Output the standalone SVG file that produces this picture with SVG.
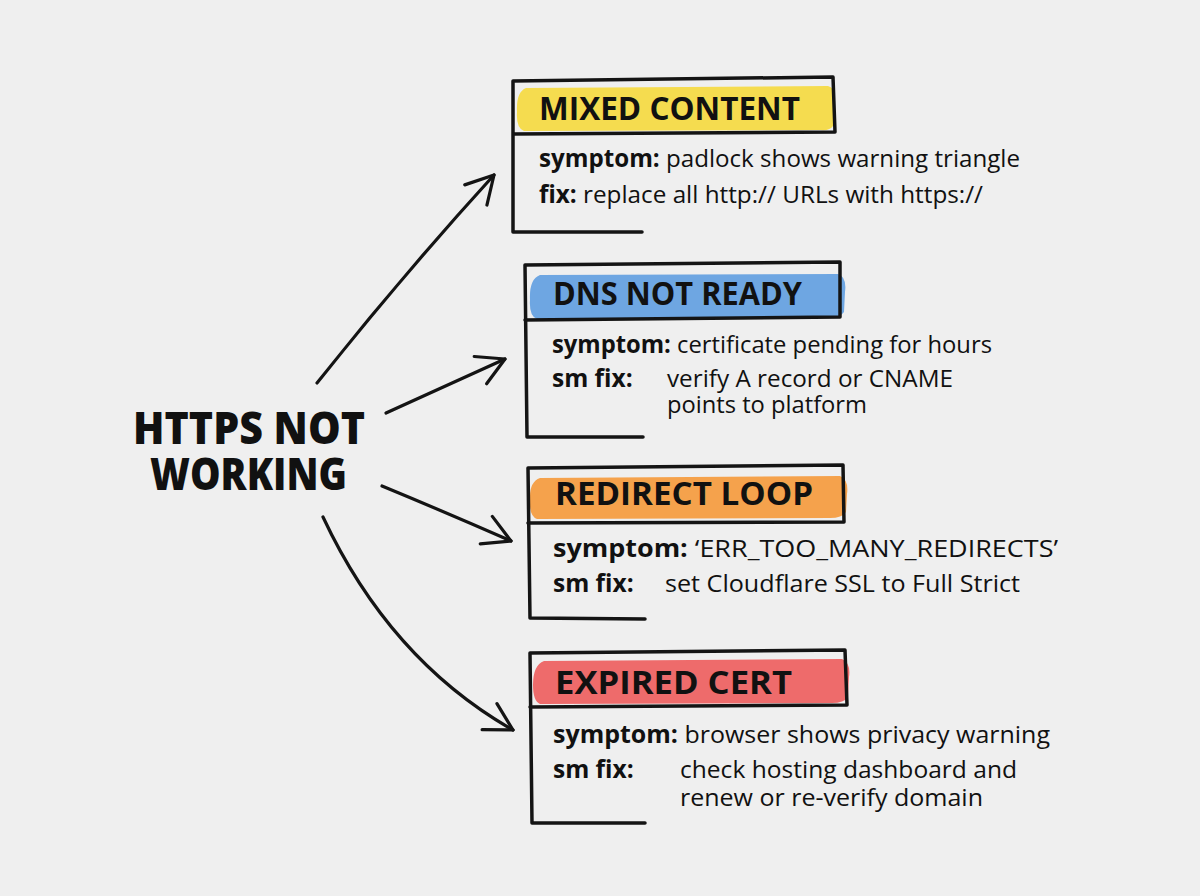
<svg xmlns="http://www.w3.org/2000/svg" width="1200" height="896" viewBox="0 0 1200 896">
<defs>
<style>
.bg{fill:#efefef}
.outline{fill:none;stroke:#141414;stroke-width:3.5;stroke-linecap:round;stroke-linejoin:round}
.conn{fill:none;stroke:#141414;stroke-width:3.2;stroke-linecap:round}
.title{font-family:"Open Sans","Liberation Sans",sans-serif;font-weight:800;font-size:45px;fill:#111}
.head{font-family:"Open Sans","Liberation Sans",sans-serif;font-weight:700;font-size:32px;fill:#111}
.body{font-family:"Open Sans","Liberation Sans",sans-serif;font-size:24.5px;fill:#111}
.b{font-weight:700}
</style>
<marker id="arrow" markerUnits="userSpaceOnUse" markerWidth="40" markerHeight="40" viewBox="-34 -20 40 40" refX="0" refY="0" orient="auto">
<path d="M-27,-15 L0,0 L-27,15" fill="none" stroke="#141414" stroke-width="3.2" stroke-linecap="round" stroke-linejoin="round"/>
</marker>
</defs>
<rect class="bg" x="0" y="0" width="1200" height="896"/>

<g id="connectors">
<path class="conn" d="M317,383 Q402,276 494,175" marker-end="url(#arrow)"/>
<path class="conn" d="M386,413 L505,359" marker-end="url(#arrow)"/>
<path class="conn" d="M382,486 Q445,512 511,541" marker-end="url(#arrow)"/>
<path class="conn" d="M323,517 Q390,660 513,730" marker-end="url(#arrow)"/>
</g>

<g id="root">
<text class="title" x="133" y="444" textLength="232" lengthAdjust="spacingAndGlyphs">HTTPS NOT</text>
<text class="title" x="150" y="490" textLength="197" lengthAdjust="spacingAndGlyphs">WORKING</text>
</g>

<g id="mixed-content">
<path d="M526,88 L828,86 Q836,88 834,100 L833,126 Q830,131 820,130 L524,131 Q516,128 517,112 Q516,92 526,88 Z" fill="#f5dc4f"/>
<path class="outline" d="M642,232 L513,232 L513,81 L833,77 L835,132 L513,134"/>
<text class="head" x="539" y="120" textLength="261" lengthAdjust="spacingAndGlyphs">MIXED CONTENT</text>
<text class="body" x="539" y="167" textLength="481" lengthAdjust="spacingAndGlyphs"><tspan class="b">symptom:</tspan> padlock shows warning triangle</text>
<text class="body" x="539" y="203" textLength="444" lengthAdjust="spacingAndGlyphs"><tspan class="b">fix:</tspan> replace all http:// URLs with https://</text>
</g>

<g id="dns-not-ready">
<path d="M540,275 L838,274 Q847,277 845,292 L844,312 Q840,318 828,318 L537,319 Q529,316 530,300 Q529,279 540,275 Z" fill="#6ea6e2"/>
<path class="outline" d="M643,437 L527,437 L525,265 L840,262 L840,317 L525,320"/>
<text class="head" x="553" y="305" textLength="249" lengthAdjust="spacingAndGlyphs">DNS NOT READY</text>
<text class="body" x="552" y="353" textLength="440" lengthAdjust="spacingAndGlyphs"><tspan class="b">symptom:</tspan> certificate pending for hours</text>
<text class="body b" x="552" y="387">sm fix:</text>
<text class="body" x="667" y="387" textLength="286" lengthAdjust="spacingAndGlyphs">verify A record or CNAME</text>
<text class="body" x="667" y="413" textLength="200" lengthAdjust="spacingAndGlyphs">points to platform</text>
</g>

<g id="redirect-loop">
<path d="M540,478 L840,476 Q849,480 847,494 L846,512 Q842,518 830,518 L537,519 Q529,516 530,500 Q529,482 540,478 Z" fill="#f5a24c"/>
<path class="outline" d="M645,619 L530,618 L528,468 L843,465 L844,522 L528,523"/>
<text class="head" x="555" y="505" textLength="258" lengthAdjust="spacingAndGlyphs">REDIRECT LOOP</text>
<text class="body" x="553" y="557" textLength="505" lengthAdjust="spacingAndGlyphs"><tspan class="b">symptom:</tspan> ‘ERR_TOO_MANY_REDIRECTS’</text>
<text class="body b" x="553" y="592">sm fix:</text>
<text class="body" x="665" y="592" textLength="355" lengthAdjust="spacingAndGlyphs">set Cloudflare SSL to Full Strict</text>
</g>

<g id="expired-cert">
<path d="M544,661 L842,659 Q851,663 849,677 L848,697 Q844,703 832,703 L540,704 Q533,701 533,685 Q533,665 544,661 Z" fill="#ee6b6b"/>
<path class="outline" d="M645,823 L532,823 L530,653 L845,650 L847,705 L530,707"/>
<text class="head" x="555" y="694" textLength="237" lengthAdjust="spacingAndGlyphs">EXPIRED CERT</text>
<text class="body" x="553" y="743" textLength="497" lengthAdjust="spacingAndGlyphs"><tspan class="b">symptom:</tspan> browser shows privacy warning</text>
<text class="body b" x="553" y="778">sm fix:</text>
<text class="body" x="680" y="778" textLength="337" lengthAdjust="spacingAndGlyphs">check hosting dashboard and</text>
<text class="body" x="680" y="806" textLength="303" lengthAdjust="spacingAndGlyphs">renew or re-verify domain</text>
</g>
</svg>
